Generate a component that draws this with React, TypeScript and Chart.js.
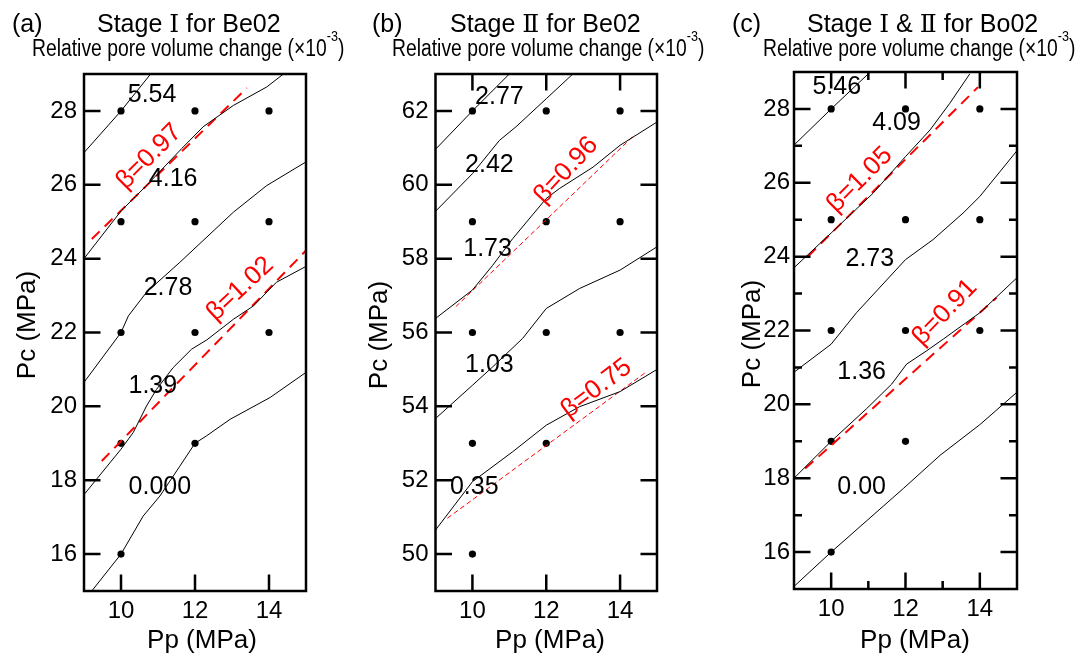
import React, { useEffect, useRef } from "react";
import { Chart, registerables } from "chart.js";

Chart.register(...registerables);

const SANS = '"Liberation Sans", Arial, Helvetica, sans-serif';
const SERIF = '"Liberation Serif", "DejaVu Serif", "Times New Roman", serif';
const PAGE_W = 1090;
const PAGE_H = 656;

// ---------- shared axis ticks ----------
const PP_TICKS = [10, 12, 14];
const PP_MINOR_BO = [11, 13];
const PC_TICKS_BE_I = [16, 18, 20, 22, 24, 26, 28];
const PC_TICKS_BE_II = [50, 52, 54, 56, 58, 60, 62];
const PC_TICKS_BO = [16, 18, 20, 22, 24, 26, 28];
const PC_MINOR_BO = [17, 19, 21, 23, 25, 27];

// ---------- (a) Stage I for Be02 ----------
const A_DOT_PP = [10, 12, 14, 10, 12, 14, 10, 12, 14, 10, 12, 10];
const A_DOT_PC = [28, 28, 28, 25, 25, 25, 22, 22, 22, 19, 19, 16];
const A_554_PP = [9, 10, 10.8];
const A_554_PC = [26.87, 28, 29];
const A_416_PP = [9, 10, 10.69, 11.64, 12.22, 13.04, 13.94, 14.39];
const A_416_PC = [24, 25.29, 25.98, 26.98, 27.57, 28.15, 28.65, 29];
const A_278_PP = [9, 10, 10.2, 10.69, 11.59, 13.04, 13.94, 15];
const A_278_PC = [20.65, 22, 22.45, 23.09, 23.9, 25.26, 25.98, 26.62];
const A_139_PP = [9, 10, 10.33, 10.69, 10.96, 11.41, 11.91, 12.32, 13.04, 13.58, 14.2, 15];
const A_139_PC = [17.61, 18.84, 19.29, 20.01, 20.46, 21.05, 21.55, 21.8, 22.36, 22.72, 23.36, 23.79];
const A_000_PP = [9.21, 10, 10.6, 11.05, 11.59, 12, 12.31, 12.95, 14.03, 15];
const A_000_PC = [15, 16, 17.03, 17.57, 18.38, 19, 19.2, 19.65, 20.24, 20.92];
const A_B097_PP = [9.21, 13.4];
const A_B097_PC = [24.53, 28.62];
const A_B102_PP = [9.48, 15];
const A_B102_PC = [18.52, 24.22];
const A_LABEL_TEXT = ["5.54", "4.16", "2.78", "1.39", "0.000"];
const A_LABEL_PP = [10.84, 11.41, 11.27, 10.86, 11.05];
const A_LABEL_PC = [28.42, 26.16, 23.2, 20.55, 17.8];
const A_BETA_TEXT = ["β=0.97", "β=1.02"];
const A_BETA_PP = [10.76, 13.22];
const A_BETA_PC = [26.76, 23.18];

// ---------- (b) Stage II for Be02 ----------
const B_DOT_PP = [10, 12, 14, 10, 12, 14, 10, 12, 14, 10, 12, 10];
const B_DOT_PC = [62, 62, 62, 59, 59, 59, 56, 56, 56, 53, 53, 50];
const B_277_PP = [9, 10, 11];
const B_277_PC = [60.96, 62, 63];
const B_242_PP = [9, 10, 10.73, 11.18, 12, 12.72];
const B_242_PC = [59.28, 60.3, 61.2, 61.57, 62.33, 63];
const B_173_PP = [9, 10, 10.55, 11.09, 12, 12.36, 13.27, 14, 15];
const B_173_PC = [56.38, 57.15, 57.82, 58.54, 59.63, 59.9, 60.48, 61.07, 61.7];
const B_103_PP = [9, 10, 10.55, 11.36, 12, 12.9, 14, 15];
const B_103_PC = [53.67, 54.57, 55.07, 55.84, 56.65, 57.19, 57.69, 58.32];
const B_035_PP = [9, 10, 11.09, 12, 12.9, 14, 15];
const B_035_PC = [50.65, 51.96, 52.77, 53.49, 53.99, 54.4, 55.0];
const B_B096_PP = [9.55, 14.4];
const B_B096_PC = [56.7, 61.36];
const B_B075_PP = [9.32, 14.72];
const B_B075_PC = [50.97, 54.94];
const B_LABEL_TEXT = ["2.77", "2.42", "1.73", "1.03", "0.35"];
const B_LABEL_PP = [10.73, 10.46, 10.41, 10.46, 10.05];
const B_LABEL_PC = [62.38, 60.53, 58.27, 55.12, 51.82];
const B_BETA_TEXT = ["β=0.96", "β=0.75"];
const B_BETA_PP = [12.54, 13.36];
const B_BETA_PC = [60.39, 54.48];

// ---------- (c) Stage I & II for Bo02 ----------
const C_DOT_PP = [10, 12, 14, 10, 12, 14, 10, 12, 14, 10, 12, 10];
const C_DOT_PC = [28, 28, 28, 25, 25, 25, 22, 22, 22, 19, 19, 16];
const C_546_PP = [9, 10, 11.05];
const C_546_PC = [27.02, 28, 29];
const C_409_PP = [9, 10, 11.13, 12, 12.66, 13.19, 13.73];
const C_409_PC = [23.7, 24.64, 25.72, 26.71, 27.43, 28.15, 28.95];
const C_273_PP = [9, 10, 10.68, 12, 12.74, 13.55, 14, 15];
const C_273_PC = [20.87, 21.63, 22.48, 23.92, 24.46, 25.18, 25.63, 26.87];
const C_136_PP = [9, 10, 10.95, 11.63, 12.03, 12.57, 13.02, 14, 15];
const C_136_PC = [18.0, 19, 19.88, 20.55, 21.09, 21.45, 21.77, 22.48, 23.43];
const C_000_PP = [9, 10, 11.94, 12.93, 14, 15];
const C_000_PC = [15.07, 16, 17.72, 18.62, 19.45, 20.33];
const C_B105_PP = [9.38, 13.95];
const C_B105_PC = [24.01, 28.59];
const C_B091_PP = [9.3, 14.45];
const C_B091_PC = [18.26, 22.89];
const C_LABEL_TEXT = ["5.46", "4.09", "2.73", "1.36", "0.00"];
const C_LABEL_PP = [10.15, 11.76, 11.04, 10.82, 10.82];
const C_LABEL_PC = [28.59, 27.61, 23.92, 20.87, 17.77];
const C_BETA_TEXT = ["β=1.05", "β=0.91"];
const C_BETA_PP = [10.77, 13.06];
const C_BETA_PC = [26.08, 22.49];

type Line = { pp: number[]; pc: number[] };

type PanelCfg = {
  key: string;
  canvasLeft: number;
  canvasWidth: number;
  plot: { left: number; top: number; right: number; bottom: number };
  yMin: number;
  yMax: number;
  yTicks: number[];
  yMinor: number[];
  xMinor: number[];
  yPad: number;
  sides: { left: boolean; right: boolean; top: boolean; bottom: boolean };
  contours: Line[];
  betaLines: Line[];
  betaWidth: number;
  betaDash: number[];
  dots: Line;
  labelText: string[];
  labelPp: number[];
  labelPc: number[];
  betaText: string[];
  betaPp: number[];
  betaPc: number[];
  betaAngle: number[];
};

const toPts = (l: Line) => l.pp.map((x, i) => ({ x, y: l.pc[i] }));

const PANELS: PanelCfg[] = [
  {
    key: "a",
    canvasLeft: 0,
    canvasWidth: 345,
    plot: { left: 84, top: 74, right: 306, bottom: 591 },
    yMin: 15,
    yMax: 29,
    yTicks: PC_TICKS_BE_I,
    yMinor: [],
    xMinor: [],
    yPad: 7,
    sides: { left: true, right: false, top: false, bottom: true },
    contours: [
      { pp: A_554_PP, pc: A_554_PC },
      { pp: A_416_PP, pc: A_416_PC },
      { pp: A_278_PP, pc: A_278_PC },
      { pp: A_139_PP, pc: A_139_PC },
      { pp: A_000_PP, pc: A_000_PC },
    ],
    betaLines: [
      { pp: A_B097_PP, pc: A_B097_PC },
      { pp: A_B102_PP, pc: A_B102_PC },
    ],
    betaWidth: 2,
    betaDash: [11, 7],
    dots: { pp: A_DOT_PP, pc: A_DOT_PC },
    labelText: A_LABEL_TEXT,
    labelPp: A_LABEL_PP,
    labelPc: A_LABEL_PC,
    betaText: A_BETA_TEXT,
    betaPp: A_BETA_PP,
    betaPc: A_BETA_PC,
    betaAngle: [-45, -43],
  },
  {
    key: "b",
    canvasLeft: 355,
    canvasWidth: 355,
    plot: { left: 435.5, top: 74, right: 657, bottom: 591 },
    yMin: 49,
    yMax: 63,
    yTicks: PC_TICKS_BE_II,
    yMinor: [],
    xMinor: [],
    yPad: 7,
    sides: { left: true, right: true, top: true, bottom: true },
    contours: [
      { pp: B_277_PP, pc: B_277_PC },
      { pp: B_242_PP, pc: B_242_PC },
      { pp: B_173_PP, pc: B_173_PC },
      { pp: B_103_PP, pc: B_103_PC },
      { pp: B_035_PP, pc: B_035_PC },
    ],
    betaLines: [
      { pp: B_B096_PP, pc: B_B096_PC },
      { pp: B_B075_PP, pc: B_B075_PC },
    ],
    betaWidth: 1,
    betaDash: [5, 3],
    dots: { pp: B_DOT_PP, pc: B_DOT_PC },
    labelText: B_LABEL_TEXT,
    labelPp: B_LABEL_PP,
    labelPc: B_LABEL_PC,
    betaText: B_BETA_TEXT,
    betaPp: B_BETA_PP,
    betaPc: B_BETA_PC,
    betaAngle: [-47, -37],
  },
  {
    key: "c",
    canvasLeft: 720,
    canvasWidth: 370,
    plot: { left: 794, top: 72, right: 1017, bottom: 589 },
    yMin: 15,
    yMax: 29,
    yTicks: PC_TICKS_BO,
    yMinor: PC_MINOR_BO,
    xMinor: PP_MINOR_BO,
    yPad: 4,
    sides: { left: true, right: true, top: true, bottom: true },
    contours: [
      { pp: C_546_PP, pc: C_546_PC },
      { pp: C_409_PP, pc: C_409_PC },
      { pp: C_273_PP, pc: C_273_PC },
      { pp: C_136_PP, pc: C_136_PC },
      { pp: C_000_PP, pc: C_000_PC },
    ],
    betaLines: [
      { pp: C_B105_PP, pc: C_B105_PC },
      { pp: C_B091_PP, pc: C_B091_PC },
    ],
    betaWidth: 2,
    betaDash: [11, 7],
    dots: { pp: C_DOT_PP, pc: C_DOT_PC },
    labelText: C_LABEL_TEXT,
    labelPp: C_LABEL_PP,
    labelPc: C_LABEL_PC,
    betaText: C_BETA_TEXT,
    betaPp: C_BETA_PP,
    betaPc: C_BETA_PC,
    betaAngle: [-45, -46],
  },
];

function overlayPlugin(p: PanelCfg) {
  return {
    id: "overlay_" + p.key,
    afterDatasetsDraw(chart: any) {
      const ctx: CanvasRenderingContext2D = chart.ctx;
      const { left, top, right, bottom } = chart.chartArea;
      const xs = chart.scales.x;
      const ys = chart.scales.y;
      ctx.save();
      // contour value labels
      ctx.fillStyle = "#000";
      ctx.font = `25px ${SANS}`;
      ctx.textAlign = "center";
      ctx.textBaseline = "middle";
      p.labelText.forEach((t, i) => {
        ctx.fillText(t, xs.getPixelForValue(p.labelPp[i]), ys.getPixelForValue(p.labelPc[i]));
      });
      // beta labels
      ctx.fillStyle = "#ff0000";
      ctx.font = `26px ${SANS}`;
      p.betaText.forEach((t, i) => {
        ctx.save();
        ctx.translate(xs.getPixelForValue(p.betaPp[i]), ys.getPixelForValue(p.betaPc[i]));
        ctx.rotate((p.betaAngle[i] * Math.PI) / 180);
        ctx.fillText(t, 0, 0);
        ctx.restore();
      });
      // inward ticks
      ctx.strokeStyle = "#000";
      ctx.lineWidth = 2.5;
      ctx.lineCap = "butt";
      ctx.beginPath();
      const xTick = (v: number, len: number) => {
        const x = xs.getPixelForValue(v);
        if (p.sides.bottom) {
          ctx.moveTo(x, bottom);
          ctx.lineTo(x, bottom - len);
        }
        if (p.sides.top) {
          ctx.moveTo(x, top);
          ctx.lineTo(x, top + len);
        }
      };
      const yTick = (v: number, len: number) => {
        const y = ys.getPixelForValue(v);
        if (p.sides.left) {
          ctx.moveTo(left, y);
          ctx.lineTo(left + len, y);
        }
        if (p.sides.right) {
          ctx.moveTo(right, y);
          ctx.lineTo(right - len, y);
        }
      };
      PP_TICKS.forEach((v) => xTick(v, 16.5));
      p.xMinor.forEach((v) => xTick(v, 8));
      p.yTicks.forEach((v) => yTick(v, 16.5));
      p.yMinor.forEach((v) => yTick(v, 8));
      ctx.stroke();
      // frame
      ctx.strokeRect(left, top, right - left, bottom - top);
      ctx.restore();
    },
  };
}

function buildConfig(p: PanelCfg): any {
  const datasets: any[] = [];
  p.contours.forEach((l, i) =>
    datasets.push({
      label: "contour " + p.labelText[i],
      data: toPts(l),
      showLine: true,
      borderColor: "#000",
      borderWidth: 1,
      pointRadius: 0,
      tension: 0,
      fill: false,
    })
  );
  p.betaLines.forEach((l, i) =>
    datasets.push({
      label: p.betaText[i],
      data: toPts(l),
      showLine: true,
      borderColor: "#ff0000",
      borderWidth: p.betaWidth,
      borderDash: p.betaDash,
      pointRadius: 0,
      tension: 0,
      fill: false,
    })
  );
  datasets.push({
    label: "measurements",
    data: toPts(p.dots),
    showLine: false,
    pointRadius: 3.6,
    pointBackgroundColor: "#000",
    pointBorderWidth: 0,
    borderColor: "#000",
  });
  return {
    type: "scatter",
    data: { datasets },
    options: {
      responsive: false,
      animation: false,
      events: [],
      layout: {
        padding: {
          left: 0,
          top: p.plot.top,
          right: p.canvasLeft + p.canvasWidth - p.plot.right,
          bottom: 0,
        },
      },
      plugins: {
        legend: { display: false },
        tooltip: { enabled: false },
        title: { display: false },
      },
      scales: {
        x: {
          type: "linear",
          position: "bottom",
          min: 9,
          max: 15,
          afterBuildTicks: (s: any) => {
            s.ticks = PP_TICKS.map((v) => ({ value: v }));
          },
          afterFit: (s: any) => {
            s.height = PAGE_H - p.plot.bottom;
          },
          grid: { display: false, drawTicks: false },
          border: { display: false },
          ticks: {
            color: "#000",
            font: { family: SANS, size: 24 },
            padding: 6,
            maxRotation: 0,
            autoSkip: false,
          },
        },
        y: {
          type: "linear",
          position: "left",
          min: p.yMin,
          max: p.yMax,
          afterBuildTicks: (s: any) => {
            s.ticks = p.yTicks.map((v) => ({ value: v }));
          },
          afterFit: (s: any) => {
            s.width = p.plot.left - p.canvasLeft;
          },
          grid: { display: false, drawTicks: false },
          border: { display: false },
          ticks: {
            color: "#000",
            font: { family: SANS, size: 24 },
            padding: p.yPad,
            autoSkip: false,
          },
        },
      },
    },
    plugins: [overlayPlugin(p)],
  };
}

function PanelChart({ cfg }: { cfg: PanelCfg }) {
  const ref = useRef<HTMLCanvasElement>(null);
  useEffect(() => {
    const canvas = ref.current;
    if (!canvas) return;
    const chart = new Chart(canvas, buildConfig(cfg));
    return () => chart.destroy();
  }, [cfg]);
  return (
    <canvas
      ref={ref}
      width={cfg.canvasWidth}
      height={PAGE_H}
      style={{
        position: "absolute",
        left: cfg.canvasLeft,
        top: 0,
        width: cfg.canvasWidth,
        height: PAGE_H,
        display: "block",
      }}
    />
  );
}

const abs = (style: React.CSSProperties): React.CSSProperties => ({
  position: "absolute",
  whiteSpace: "nowrap",
  fontFamily: SANS,
  lineHeight: 1,
  color: "#000",
  ...style,
});

const Roman = ({ t }: { t: string }) => <span style={{ fontFamily: SERIF }}>{t}</span>;

function Subtitle({ left }: { left: number }) {
  return (
    <div style={abs({ left, top: 36.5, fontSize: 23, transform: "scaleX(0.84)", transformOrigin: "left top" })}>
      Relative pore volume change (×10
      <span style={{ fontSize: 15, position: "relative", top: -15 }}>-3</span>)
    </div>
  );
}

function XTitle({ cx }: { cx: number }) {
  return (
    <div style={abs({ left: cx - 100, width: 200, textAlign: "center", top: 626, fontSize: 26 })}>Pp (MPa)</div>
  );
}

function YTitle({ cx, cy }: { cx: number; cy: number }) {
  return (
    <div
      style={abs({
        left: cx - 100,
        top: cy - 13,
        width: 200,
        height: 26,
        textAlign: "center",
        fontSize: 26,
        transform: "rotate(-90deg)",
      })}
    >
      Pc (MPa)
    </div>
  );
}

export default function App() {
  return (
    <div
      style={{
        position: "absolute",
        left: 0,
        top: 0,
        width: PAGE_W,
        height: PAGE_H,
        background: "#fff",
        overflow: "hidden",
      }}
    >
      {PANELS.map((p) => (
        <PanelChart key={p.key} cfg={p} />
      ))}

      <div style={abs({ left: 12, top: 10.5, fontSize: 25 })}>(a)</div>
      <div style={abs({ left: 97, top: 10.5, fontSize: 25 })}>
        Stage <Roman t="Ⅰ" /> for Be02
      </div>
      <div style={abs({ left: 372, top: 10.5, fontSize: 25 })}>(b)</div>
      <div style={abs({ left: 450, top: 10.5, fontSize: 25 })}>
        Stage <Roman t="Ⅱ" /> for Be02
      </div>
      <div style={abs({ left: 732, top: 10.5, fontSize: 25 })}>(c)</div>
      <div style={abs({ left: 807, top: 10.5, fontSize: 25 })}>
        Stage <Roman t="Ⅰ" /> &amp; <Roman t="Ⅱ" /> for Bo02
      </div>

      <Subtitle left={32} />
      <Subtitle left={392} />
      <Subtitle left={763} />

      <YTitle cx={26} cy={325} />
      <YTitle cx={378} cy={335} />
      <YTitle cx={751} cy={334} />

      <XTitle cx={202} />
      <XTitle cx={550} />
      <XTitle cx={915} />
    </div>
  );
}
